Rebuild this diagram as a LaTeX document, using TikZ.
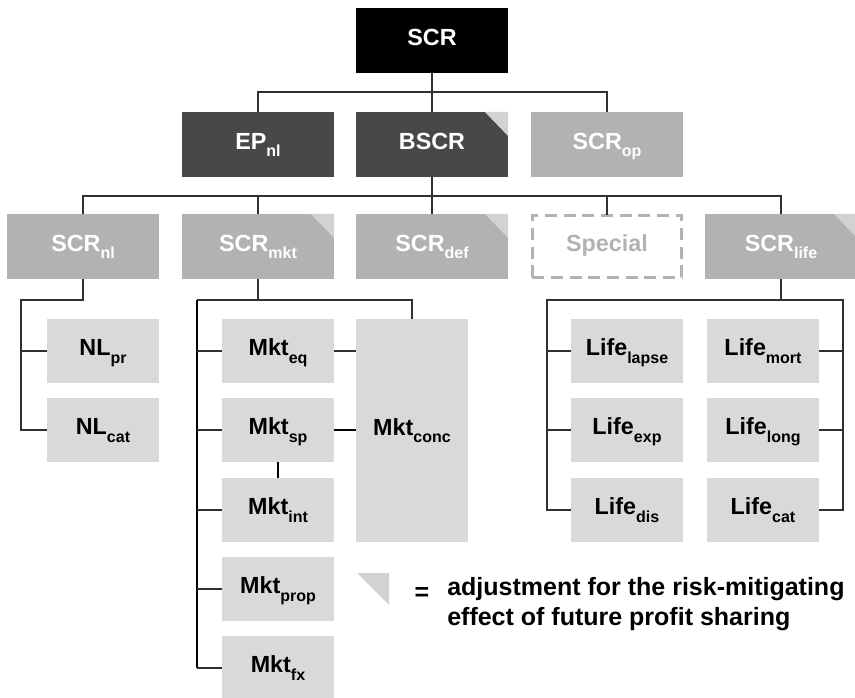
\documentclass[tikz,border=0pt]{standalone}
\usepackage{fontspec}
\setmainfont{Liberation Sans}
\usepackage{graphicx}

\definecolor{boxdark}{HTML}{484848}
\definecolor{boxmid}{HTML}{B2B2B2}
\definecolor{boxlight}{HTML}{D9D9D9}
\definecolor{foldgray}{HTML}{D2D2D2}
\definecolor{linegray}{HTML}{303030}

\newcommand{\sbx}[1]{\raisebox{-5.5pt}{\fontsize{12pt}{12pt}\selectfont #1}}

\tikzset{
  riskbox/.style={minimum width=114pt, minimum height=48.75pt, inner sep=0pt, outer sep=0pt,
    text height=13pt, text depth=6pt, font=\fontsize{17.5pt}{20pt}\selectfont\bfseries, text=white},
  subbox/.style={riskbox, minimum width=84pt, minimum height=48pt, fill=boxlight, text=black},
  fold/.style={fill=foldgray},
  conn/.style={draw=linegray, line width=1pt},
  thickconn/.style={draw=black, line width=1.6pt},
  legendtext/.style={anchor=base west, inner sep=0pt, font=\fontsize{18.75pt}{22pt}\selectfont\bfseries}
}

\begin{document}
\begin{tikzpicture}[x=0.75pt, y=-0.75pt]
\useasboundingbox (0,0) rectangle (855,698);

% top levels
\node[riskbox, fill=black] (scr) at (432,40.5) {SCR};
\node[riskbox, fill=boxdark] (epnl) at (258,144.5) {EP\sbx{nl}};
\node[riskbox, fill=boxdark] (bscr) at (432,144.5) {BSCR};
\node[riskbox, fill=boxmid] (scrop) at (607,144.5) {SCR\sbx{op}};

\node[riskbox, fill=boxmid] (scrnl) at (83,246.5) {SCR\sbx{nl}};
\node[riskbox, fill=boxmid] (scrmkt) at (258,246.5) {SCR\sbx{mkt}};
\node[riskbox, fill=boxmid] (scrdef) at (432,246.5) {SCR\sbx{def}};
\node[riskbox, minimum width=112pt, minimum height=46.5pt, draw=boxmid, line width=2.2pt,
  dash pattern=on 9pt off 5pt, text=boxmid] (special) at (607,246.5) {Special};
\node[riskbox, fill=boxmid] (scrlife) at (781,246.5) {SCR\sbx{life}};

% sub-modules
\node[subbox] (nlpr) at (103,351) {NL\sbx{pr}};
\node[subbox] (nlcat) at (103,430) {NL\sbx{cat}};

\node[subbox] (mkteq) at (278,351) {Mkt\sbx{eq}};
\node[subbox] (mktsp) at (278,430) {Mkt\sbx{sp}};
\node[subbox] (mktint) at (278,510) {Mkt\sbx{int}};
\node[subbox] (mktprop) at (278,589) {Mkt\sbx{prop}};
\node[subbox] (mktfx) at (278,668) {Mkt\sbx{fx}};
\node[subbox, minimum height=167.25pt] (mktconc) at (412,430.5) {Mkt\sbx{conc}};

\node[subbox] (lifelapse) at (627,351) {Life\sbx{lapse}};
\node[subbox] (lifeexp) at (627,430) {Life\sbx{exp}};
\node[subbox] (lifedis) at (627,510) {Life\sbx{dis}};
\node[subbox] (lifemort) at (763,351) {Life\sbx{mort}};
\node[subbox] (lifelong) at (763,430) {Life\sbx{long}};
\node[subbox] (lifecat) at (763,510) {Life\sbx{cat}};

% corner marks
\foreach \n in {bscr,scrmkt,scrdef,scrlife}
  \fill[fold] (\n.north east) -- ++(-23,0) -- ++(23,24) -- cycle;

% connectors
\coordinate (bus1) at (432,92);
\coordinate (bus2) at (432,196);
\draw[conn] (scr) -- (bscr);
\draw[conn] (epnl.north) |- (bus1) -| (scrop.north);
\draw[conn] (bscr) -- (scrdef);
\draw[conn] (scrnl.north) |- (bus2) -| (scrlife.north);
\draw[conn] (scrmkt.north) -- (scrmkt.north |- bus2);
\draw[conn] (special.north) -- (special.north |- bus2);

\coordinate (nlbend) at (21,300);
\draw[conn] (scrnl.south) |- (nlbend) |- (nlcat.west);
\draw[conn] (nlbend |- nlpr.west) -- (nlpr.west);

\coordinate (mktbend) at (197,300);
\draw[conn] (mktconc.north) |- (mktbend);
\draw[conn] (scrmkt.south) -- (scrmkt.south |- mktbend);
\draw[thickconn] (mktbend) -- (mktbend |- mktfx.west);
\foreach \m in {mkteq,mktsp,mktint,mktprop,mktfx}
  \draw[conn] (mktbend |- \m.west) -- (\m.west);
\draw[conn] (mkteq) -- (mkteq -| mktconc.west);
\draw[thickconn] (mktsp) -- (mktsp -| mktconc.west);
\draw[thickconn] (mktsp) -- (mktint);

\coordinate (lifel) at (547,300);
\coordinate (lifer) at (843,300);
\draw[conn] (lifedis.west) -| (lifel) -- (lifer) |- (lifecat.east);
\draw[conn] (scrlife.south) -- (scrlife.south |- lifel);
\foreach \n in {lifelapse,lifeexp}
  \draw[conn] (lifel |- \n.west) -- (\n.west);
\foreach \n in {lifemort,lifelong}
  \draw[conn] (lifer |- \n.east) -- (\n.east);

% legend
\fill[fold] (357,573) -- (389,573) -- (389,605) -- cycle;
\node[font=\fontsize{18.75pt}{22pt}\selectfont\bfseries, inner sep=0pt] (equals) at (422,594) {=};
\node[legendtext] (legtop) at (447,595) {adjustment for the risk-mitigating};
\node[legendtext] (legbot) at ([yshift=-22.5pt]legtop.base west) {effect of future profit sharing};
\end{tikzpicture}
\end{document}
